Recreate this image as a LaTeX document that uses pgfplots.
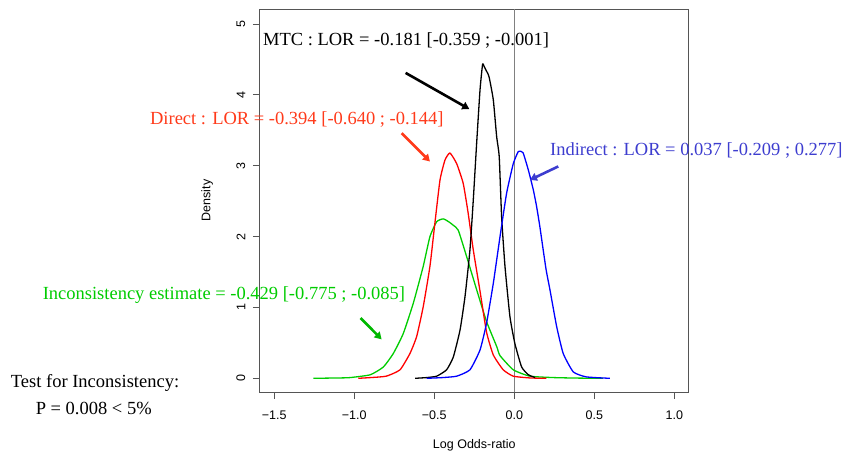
\documentclass[border=0pt]{standalone}
\usepackage{pgfplots}
\pgfplotsset{compat=1.18}
\usepackage{fontspec}
\setmainfont{Liberation Serif}
\setsansfont{Liberation Sans}
\usetikzlibrary{arrows.meta}

\definecolor{rgreen}{HTML}{00CD00}
\definecolor{txtred}{HTML}{FF3A1A}
\definecolor{txtblue}{HTML}{3D3DCF}
\definecolor{txtgreen}{HTML}{00CC00}
\definecolor{boxgray}{HTML}{555555}

% posterior densities
\pgfplotstableread{
x y
-0.620 0.00
-0.550 0.01
-0.485 0.03
-0.423 0.12
-0.381 0.30
-0.339 0.68
-0.308 1.15
-0.277 1.81
-0.256 2.52
-0.235 3.32
-0.214 4.07
-0.198 4.43
-0.188 4.40
-0.177 4.35
-0.165 4.30
-0.156 4.24
-0.131 3.93
-0.110 3.41
-0.094 3.13
-0.079 2.28
-0.058 1.58
-0.027 0.87
0.004 0.49
0.046 0.16
0.088 0.05
0.120 0.02
0.130 0.01
}\mtc

\pgfplotstableread{
x y
-0.975 0.00
-0.900 0.01
-0.800 0.03
-0.714 0.12
-0.652 0.35
-0.610 0.59
-0.569 1.01
-0.527 1.58
-0.496 2.19
-0.464 2.80
-0.433 3.08
-0.402 3.18
-0.360 3.03
-0.319 2.75
-0.288 2.33
-0.256 1.81
-0.214 1.23
-0.173 0.65
-0.131 0.33
-0.069 0.12
-0.006 0.03
0.100 0.005
0.200 0.00
}\direct

\pgfplotstableread{
x y
-1.256 0.00
-1.100 0.005
-1.027 0.01
-0.900 0.05
-0.818 0.16
-0.756 0.35
-0.694 0.63
-0.631 1.06
-0.569 1.58
-0.527 2.00
-0.485 2.21
-0.444 2.25
-0.410 2.21
-0.381 2.16
-0.350 2.09
-0.298 1.72
-0.235 1.25
-0.173 0.80
-0.110 0.45
-0.089 0.32
-0.006 0.12
0.098 0.03
0.250 0.01
0.400 0.003
0.554 0.00
}\incons

\pgfplotstableread{
x y
-0.548 0.00
-0.450 0.01
-0.360 0.03
-0.277 0.12
-0.214 0.40
-0.173 0.78
-0.131 1.34
-0.089 2.00
-0.048 2.61
-0.006 3.03
0.025 3.20
0.045 3.20
0.056 3.18
0.088 2.94
0.119 2.66
0.140 2.42
0.160 2.14
0.181 1.81
0.200 1.52
0.223 1.25
0.265 0.73
0.306 0.35
0.369 0.09
0.450 0.02
0.598 0.00
}\indirect

\begin{document}
\begin{tikzpicture}
\begin{axis}[
    scale only axis,
    width=429pt, height=383pt,
    xmin=-1.59, xmax=1.091,
    ymin=-0.193, ymax=5.212,
    clip=false,
    axis line style={boxgray, line width=0.8pt},
    tick style={boxgray, line width=0.8pt},
    tick align=outside,
    major tick length=7pt,
    xtick pos=left, ytick pos=left,
    xtick={-1.5,-1,-0.5,0,0.5,1},
    xticklabels={−1.5,−1.0,−0.5,0.0,0.5,1.0},
    ytick={0,1,2,3,4,5},
    yticklabels={0,1,2,3,4,5},
    tick label style={font=\fontsize{12.5}{14}\sffamily},
    yticklabel style={rotate=90, anchor=south},
    xticklabel shift=8pt,
    yticklabel shift=4pt,
    label style={font=\fontsize{12.5}{14}\sffamily},
    xlabel={Log Odds-ratio},
    xlabel style={at={(axis description cs:0.5,-0.138)}, anchor=center},
    ylabel={Density},
    ylabel style={at={(axis description cs:-0.123,0.5)}, anchor=center},
    every axis plot/.append style={line width=1.3pt, line join=round, smooth, tension=0.3},
  ]
% picture frame, same proportions as the reference
\path (axis cs:-3.214,-1.054) rectangle (axis cs:2.067,5.339);

\addplot[gray, line width=0.8pt, sharp plot] coordinates {(0,-0.193) (0,5.212)};
\addplot[rgreen] table {\incons};
\addplot[red] table {\direct};
\addplot[black] table {\mtc};
\addplot[blue] table {\indirect};

\begin{scope}[font=\fontsize{18.5}{20}\selectfont, every node/.style={inner sep=0pt}]
\node[anchor=west] at (axis cs:-1.571,4.77) {MTC : LOR = -0.181 [-0.359 ; -0.001]};
\node[anchor=west, text=txtred] at (axis cs:-2.277,3.655) {Direct : LOR = -0.394 [-0.640 ; -0.144]};
\node[anchor=west, text=txtblue] at (axis cs:0.223,3.21) {Indirect : LOR = 0.037 [-0.209 ; 0.277]};
\node[anchor=west, text=txtgreen] at (axis cs:-2.948,1.175) {Inconsistency estimate = -0.429 [-0.775 ; -0.085]};
\node at (axis cs:-2.62,-0.07) {Test for Inconsistency:};
\node at (axis cs:-2.628,-0.423) {P = 0.008 < 5\%};
\end{scope}

\begin{scope}[line width=2.6pt, -{Triangle[length=7pt,width=8pt]}]
\draw[black] (axis cs:-0.679,4.31) -- (axis cs:-0.281,3.80);
\draw[txtred] (axis cs:-0.704,3.46) -- (axis cs:-0.527,3.06);
\draw[txtblue] (axis cs:0.275,2.99) -- (axis cs:0.098,2.80);
\draw[txtgreen!90!black] (axis cs:-0.96,0.85) -- (axis cs:-0.829,0.55);
\end{scope}
\end{axis}
\end{tikzpicture}
\end{document}
